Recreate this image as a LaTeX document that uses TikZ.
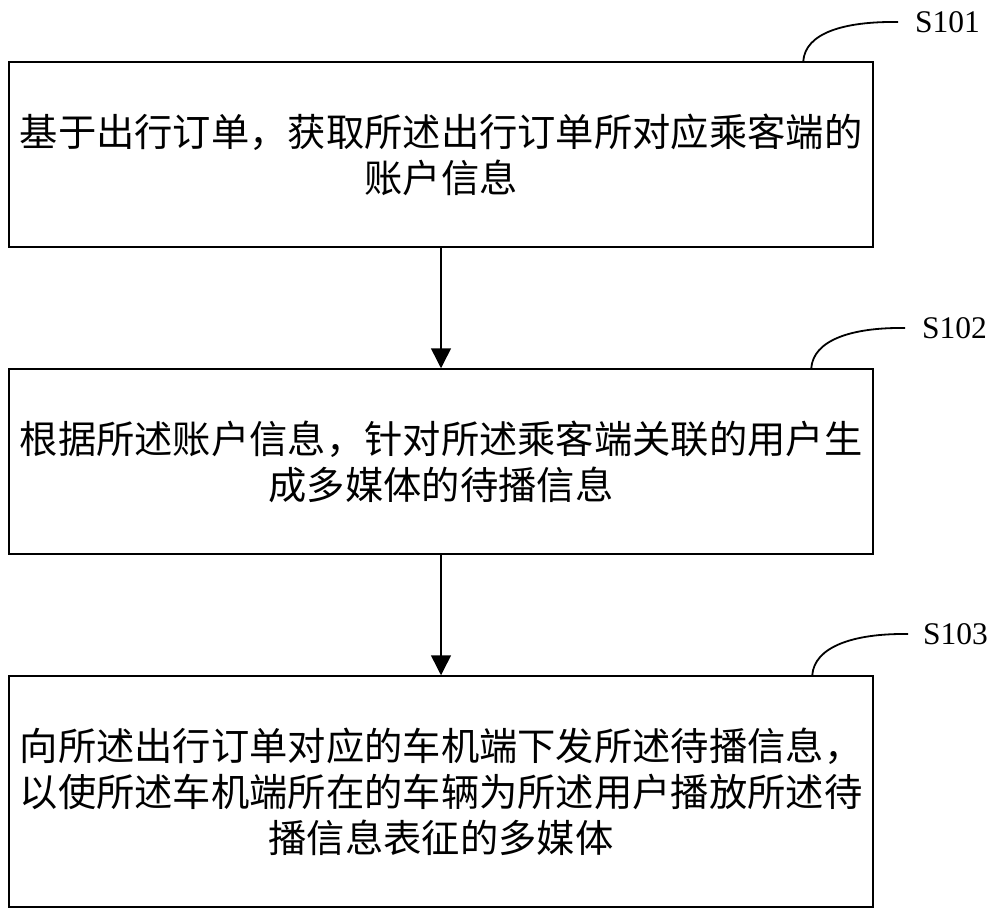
\documentclass[tikz,border=0pt]{standalone}
\usepackage{fontspec}
\setmainfont{Liberation Serif}
\newfontfamily\cjk{Noto Sans CJK SC}
\usetikzlibrary{arrows.meta,calc}
\tikzset{
  stepbox/.style={draw, line width=1.5pt, inner sep=0pt, align=center,
    font=\cjk\fontsize{38.3}{46}\selectfont},
  flow/.style={line width=1.5pt, -{Triangle[width=20pt,length=20pt]}},
  steplabel/.style={anchor=west, inner sep=0pt, font=\fontsize{31.5}{31.5}\selectfont},
  hook/.style={line width=1.8pt}
}
\begin{document}
\begin{tikzpicture}[x=1pt,y=-1pt]
\useasboundingbox (0,0) rectangle (1000,917);
\node[stepbox, minimum width=864pt, minimum height=185pt] (b1) at (441,154.5)
  {基于出行订单，获取所述出行订单所对应乘客端的\\账户信息};
\node[stepbox, minimum width=864pt, minimum height=185pt] (b2) at (441,461.5)
  {根据所述账户信息，针对所述乘客端关联的用户生\\成多媒体的待播信息};
\node[stepbox, minimum width=864pt, minimum height=231pt] (b3) at (441,791.5)
  {向所述出行订单对应的车机端下发所述待播信息，\\以使所述车机端所在的车辆为所述用户播放所述待\\播信息表征的多媒体};
\draw[flow] (b1) -- (b2);
\draw[flow] (b2) -- (b3);
\node[steplabel] (l1) at (915,22) {S101};
\node[steplabel] (l2) at (922,328) {S102};
\node[steplabel] (l3) at (923,634) {S103};
\coordinate (h1) at ($(b1.north west)+(795,0)$);
\coordinate (h2) at ($(b2.north west)+(803,0)$);
\coordinate (h3) at ($(b3.north west)+(804,0)$);
\draw[hook] (h1) .. controls ($(h1)+(2,-28)$) and ($(h1)+(40,-40)$) .. ($(l1.west)+(-17,0)$);
\draw[hook] (h2) .. controls ($(h2)+(2,-28)$) and ($(h2)+(40,-41)$) .. ($(l2.west)+(-17,0)$);
\draw[hook] (h3) .. controls ($(h3)+(2,-28)$) and ($(h3)+(40,-42)$) .. ($(l3.west)+(-15,0)$);
\end{tikzpicture}
\end{document}
